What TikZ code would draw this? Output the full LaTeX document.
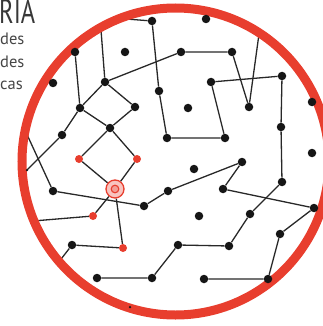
\documentclass[tikz,border=0pt]{standalone}
\usepackage{fontspec}
\setmainfont{PT Sans}
\newfontfamily\titlefont[FakeStretch=0.72]{PT Sans}
\usetikzlibrary{backgrounds}
\definecolor{mred}{RGB}{232,62,46}
\definecolor{dotc}{RGB}{22,22,22}
\definecolor{edgec}{RGB}{40,40,40}
\definecolor{txtc}{RGB}{70,70,70}
\tikzset{
  dotnode/.style={circle,fill=dotc,inner sep=0pt,minimum size=8.5pt},
  rednode/.style={circle,fill=mred,inner sep=0pt,minimum size=8pt},
  target/.style={circle,draw=mred,line width=1.3pt,fill=mred!30,inner sep=0pt,minimum size=18pt,
    path picture={\draw[mred,line width=1.1pt,fill=mred!50] (path picture bounding box.center) circle (3.8pt);}},
  link/.style={draw=edgec,line width=1.3pt},
  ringline/.style={draw=mred,line width=9pt},
  tickmark/.style={circle,fill=dotc,inner sep=0pt,minimum size=2.5pt},
  small/.style={font=\fontsize{16.5}{18}\selectfont,text=txtc,inner sep=0pt,anchor=base west}
}
\begin{document}
\begin{tikzpicture}[x=1pt,y=-1pt]
\useasboundingbox (0,0) rectangle (322,326);
% black dots
\node[dotnode] (a1) at (152,21) {};
\node[dotnode] (a2) at (159,91) {};
\node[dotnode] (a3) at (167,138) {};
\node[dotnode] (a4) at (225,138) {};
\node[dotnode] (a5) at (211,82) {};
\node[dotnode] (a6) at (282,76) {};
\node[dotnode] (a7) at (281,127) {};
\node[dotnode] (a8) at (282,182) {};
\node[dotnode] (a9) at (250,214) {};
\node[dotnode] (a10) at (229,246) {};
\node[dotnode] (a11) at (178,245) {};
\node[dotnode] (a12) at (152,278) {};
\node[dotnode] (a13) at (97,278) {};
\node[dotnode] (b1) at (181,52) {};
\node[dotnode] (b2) at (232,52) {};
\node[dotnode] (b3) at (249,107) {};
\node[dotnode] (b4) at (105,82) {};
\node[dotnode] (b5) at (80,108) {};
\node[dotnode] (b6) at (75,52) {};
\node[dotnode] (b7) at (135,107) {};
\node[dotnode] (b8) at (110,128) {};
\node[dotnode] (b9) at (62,135) {};
\node[dotnode] (c1) at (53,191) {};
\node[dotnode] (c2) at (144,206) {};
\node[dotnode] (c3) at (168,191) {};
\node[dotnode] (c4) at (242,162) {};
\node[dotnode] (c5) at (223,189) {};
\node[dotnode] (c6) at (314,208) {};
\node[dotnode] (c7) at (280,234) {};
\node[dotnode] (c8) at (268,279) {};
\node[dotnode] (c9) at (204,279) {};
\node[dotnode] (d1) at (72,245) {};
% isolated dots
\node[dotnode] (i1) at (206,19) {};
\node[dotnode] (i2) at (125,52) {};
\node[dotnode] (i3) at (53,83) {};
\node[dotnode] (i4) at (188,108) {};
\node[dotnode] (i5) at (312,153) {};
\node[dotnode] (i6) at (194,169) {};
\node[dotnode] (i7) at (199,216) {};
\node[dotnode] (i8) at (312,102) {};
% red nodes
\node[rednode] (r1) at (79,159) {};
\node[rednode] (r2) at (137,159) {};
\node[rednode] (r3) at (93,216) {};
\node[rednode] (r4) at (123,248) {};
\node[target] (t) at (115,189) {};
% free ends at the ring
\coordinate (e1) at (126,19);
\coordinate (e2) at (101,30);
\coordinate (e3) at (259,34);
\coordinate (e4) at (27,170);
\coordinate (e5) at (24,128);
\coordinate (e6) at (33,221);
\coordinate (e7) at (58,263);
\begin{pgfonlayer}{background}
\path[link] (e1) -- (a1) -- (a2) -- (a3) -- (a4) -- (a5) -- (a6) -- (a7) -- (a8) -- (a9) -- (a10) -- (a11) -- (a12) -- (a13);
\path[link] (e2) -- (b4) -- (b1) -- (b2) -- (b3) -- (e3);
\path[link] (b6) -- (b5) -- (b4) -- (b7) -- (b8) -- (b5);
\path[link] (b5) -- (b9) -- (e4);
\path[link] (b8) -- (r1) -- (t);
\path[link] (b8) -- (r2) -- (t);
\path[link] (e5) -- (c1) -- (c2) -- (c3) -- (c4) -- (c5) -- (c6) -- (c7) -- (c8) -- (c9);
\path[link] (t) -- (r3) -- (e6);
\path[link] (t) -- (r4) -- (d1) -- (e7);
\draw[ringline] (175.5,161.5) circle (153.5);
\end{pgfonlayer}
\node[tickmark] (m1) at (27,170) {};
\node[tickmark] (m2) at (130,307) {};
% text
\node[inner sep=0pt,anchor=base west,text=txtc!80!black,font=\titlefont\fontsize{34}{34}\selectfont] (title) at (-1,24) {RIA};
\node[small] (l1) at (0,45) {des};
\node[small] (l2) at (0,68) {des};
\node[small] (l3) at (0,90) {cas};
\end{tikzpicture}
\end{document}
